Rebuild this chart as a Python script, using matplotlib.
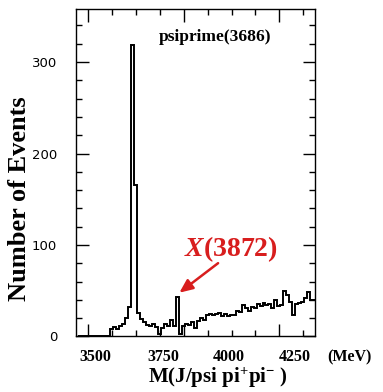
import matplotlib
matplotlib.use("Agg")
import matplotlib.pyplot as plt
import numpy as np
from matplotlib.ticker import MultipleLocator, FixedLocator

plt.rcParams['mathtext.fontset'] = 'custom'
plt.rcParams['mathtext.rm'] = 'Liberation Serif:bold'
plt.rcParams['mathtext.bf'] = 'Liberation Serif:bold'
plt.rcParams['mathtext.it'] = 'Liberation Serif:italic:bold'

# histogram: 12.5 MeV bins starting at 3455 MeV
bin_start = 3455
bin_width = 12.5
counts = [0, 0, 0, 0, 0, 1, 0, 0, 0, 0,
          1, 8, 10, 8, 11, 14, 20, 32, 319, 166,
          26, 19, 16, 13, 11, 14, 10, 3, 9, 14,
          11, 18, 11, 43, 3, 12, 14, 13, 16, 9,
          17, 20, 18, 23, 25, 23, 25, 26, 22, 25,
          22, 24, 23, 28, 27, 34, 31, 28, 32, 31,
          35, 33, 37, 34, 36, 31, 40, 33, 34, 50,
          45, 38, 23, 36, 37, 38, 42, 49, 40, 40]
edges = bin_start + bin_width * np.arange(len(counts) + 1)

xtick_labels = ["3500", "3750", "4000", "4250"]
ytick_vals = [0, 100, 200, 300]
peak_label = "psiprime(3686)"
x_mass = 3872

fig = plt.figure(figsize=(3.83, 3.92), dpi=100)
ax = fig.add_axes([0.1997, 0.1416, 0.6227, 0.8355])

ax.stairs(counts, edges, color="black", lw=1.4, baseline=0)

ax.set_xlim(3450, 4450)
ax.set_ylim(0, 358)

ax.xaxis.set_major_locator(FixedLocator([3500, 3900, 4300]))
ax.xaxis.set_minor_locator(FixedLocator(np.arange(3500, 4401, 100)))
ax.set_xticklabels([])
ax.yaxis.set_major_locator(FixedLocator(ytick_vals))
ax.yaxis.set_minor_locator(MultipleLocator(20))
ax.set_yticklabels([str(v) for v in ytick_vals],
                   family=["Liberation Sans Narrow", "DejaVu Sans"], fontsize=9.5)

ax.tick_params(which="both", direction="in", top=True, right=True, width=1.0, color="black")
ax.tick_params(which="major", length=9)
ax.tick_params(which="minor", length=4.5)
ax.tick_params(axis="y", which="major", pad=14)
for s in ax.spines.values():
    s.set_linewidth(1.0)

# hand placed tick labels and unit
xlab_pos = [0.078, 0.363, 0.639, 0.916]
for lab, xp in zip(xtick_labels, xlab_pos):
    ax.text(xp, -0.063, lab, transform=ax.transAxes, ha="center", va="center",
            family="Liberation Serif", fontweight="bold", fontsize=11.5)
ax.text(1.143, -0.063, "(MeV)", transform=ax.transAxes, ha="center", va="center",
        family="Liberation Serif", fontweight="bold", fontsize=11.5)

fig.text(0.569, 0.035, r"M(J/psi pi$^{+}$pi$^{-}$ )", ha="center", va="center",
         family="Liberation Serif", fontweight="bold", fontsize=15)
fig.text(0.050, 0.492, "Number of Events", rotation=90, ha="center", va="center",
         family="Liberation Serif", fontweight="bold", fontsize=19)

ax.text(0.581, 0.914, peak_label, transform=ax.transAxes, ha="center", va="center",
        family="Liberation Serif", fontweight="bold", fontsize=12.5)

red = "#d81e1e"
ax.annotate("", xy=(x_mass, 46), xytext=(4053, 82),
            arrowprops=dict(arrowstyle="-|>,head_length=0.8,head_width=0.35", color=red, lw=1.8))
ax.text(0.648, 0.266, r"$\mathit{X}$(3872)", transform=ax.transAxes, ha="center", va="center",
        family="Liberation Serif", fontweight="bold", fontsize=20, color=red)

fig.savefig("out.png", dpi=100)
